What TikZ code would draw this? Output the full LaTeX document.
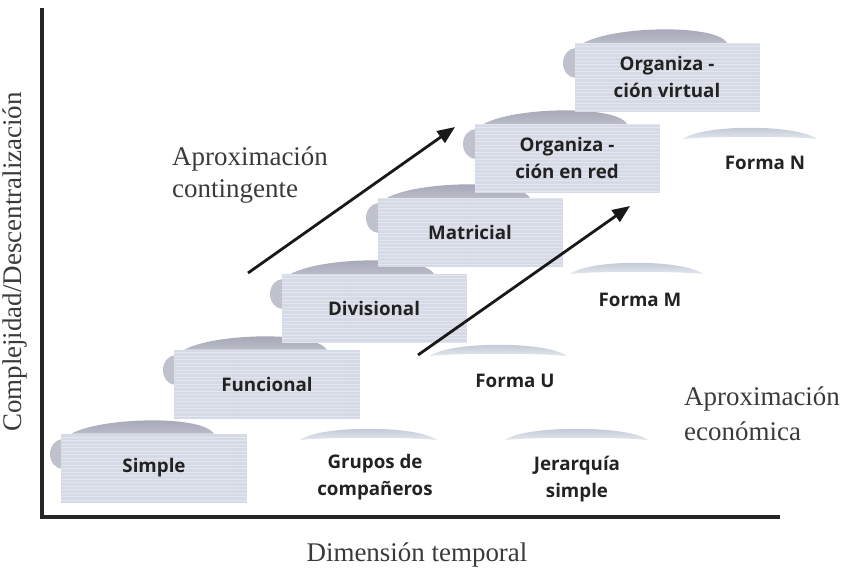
\documentclass[tikz,border=0pt]{standalone}
\usepackage{fontspec}
\setmainfont{Liberation Serif}
\newfontfamily\boxfont{Open Sans}
\usetikzlibrary{arrows.meta,patterns}
\definecolor{boxcol}{HTML}{D6DAE6}
\definecolor{domeA}{HTML}{9C9EAE}
\definecolor{domeB}{HTML}{C4C6D2}
\definecolor{bulgecol}{HTML}{BFC2CC}
\definecolor{lightdomeA}{HTML}{B8C0CE}
\definecolor{lightdomeB}{HTML}{E4E8EE}
\definecolor{txt}{HTML}{222222}
\definecolor{serif}{HTML}{3A3A3A}
\tikzset{
  orgrect/.style={fill=boxcol, minimum width=5.55cm, minimum height=2.07cm, inner sep=0pt,
    postaction={pattern=horizontal lines, pattern color=white, opacity=0.35},
    font=\boxfont\bfseries\fontsize{16}{23}\selectfont, text=txt, align=center},
  plainlabel/.style={font=\boxfont\bfseries\fontsize{16}{23}\selectfont, text=txt, align=center, inner sep=0pt},
  seriflabel/.style={font=\fontsize{23}{27}\selectfont, text=serif, align=left, inner sep=0pt},
  axisline/.style={line width=3.4pt, draw=black!85},
  trendarrow/.style={line width=2.4pt, draw=black!90, -{Triangle[length=15pt,width=12pt]}}
}
\newcommand\orgbox[4]{%
  \fill[bulgecol] (#2+1,#3+22) ellipse [x radius=13, y radius=15];
  \shade[top color=domeA, bottom color=domeB] (#2+1,#3+10) .. controls (#2+8,#3-14) and (#2+140,#3-20) .. (#2+152,#3+2) -- (#2+152,#3+10) -- cycle;
  \node[orgrect] (#1) at (#2+92,#3+36) {#4};
}
\newcommand\lightdome[3]{%
  \shade[top color=lightdomeA, bottom color=lightdomeB] (#1,#3) .. controls (#1+20,#3-15) and (#2-20,#3-15) .. (#2,#3) .. controls (#2-30,#3-3) and (#1+30,#3-3) .. (#1,#3) -- cycle;
}
\begin{document}
\begin{tikzpicture}[x=0.03cm,y=-0.03cm]
\useasboundingbox (0,0) rectangle (848,578);

% axes
\coordinate (ytop) at (42,8);
\coordinate (origin) at (42,517);
\coordinate (xend) at (780,517);
\draw[axisline] (ytop) -- (origin) -- (xend);

% axis labels
\node[seriflabel, rotate=90] (ylab) at (15,262) {Complejidad/Descentralización};
\node[seriflabel] (xlab) at (417,555) {Dimensión temporal};

% organisation boxes (contingent approach)
\orgbox{simple}{62}{432}{Simple}
\orgbox{funcional}{175}{348}{Funcional}
\orgbox{divisional}{282}{272}{Divisional}
\orgbox{matricial}{378}{196}{Matricial}
\orgbox{red}{475}{122}{Organiza -\\ción en red}
\orgbox{virtual}{575}{41}{Organiza -\\ción virtual}

% economic approach
\lightdome{300}{437}{440}
\node[plainlabel] (grupos) at (375,477) {Grupos de\\compañeros};
\lightdome{505}{648}{440}
\node[plainlabel] (jerarquia) at (577,479) {Jerarquía\\simple};
\lightdome{430}{567}{356}
\node[plainlabel] (formaU) at (515,381) {Forma U};
\lightdome{570}{703}{274}
\node[plainlabel] (formaM) at (640,300) {Forma M};
\lightdome{683}{817}{139}
\node[plainlabel] (formaN) at (765,163) {Forma N};

% approach labels
\node[seriflabel, anchor=west] (contlab) at (172,175) {Aproximación\\contingente};
\node[seriflabel, anchor=west, font=\fontsize{23}{30}\selectfont] (ecolab) at (684,414) {Aproximación\\económica};

% arrows
\coordinate (c1) at (248,273);
\coordinate (c2) at (455,127);
\coordinate (e1) at (418,355);
\coordinate (e2) at (630,206);
\draw[trendarrow] (c1) -- (c2);
\draw[trendarrow] (e1) -- (e2);
\end{tikzpicture}
\end{document}
